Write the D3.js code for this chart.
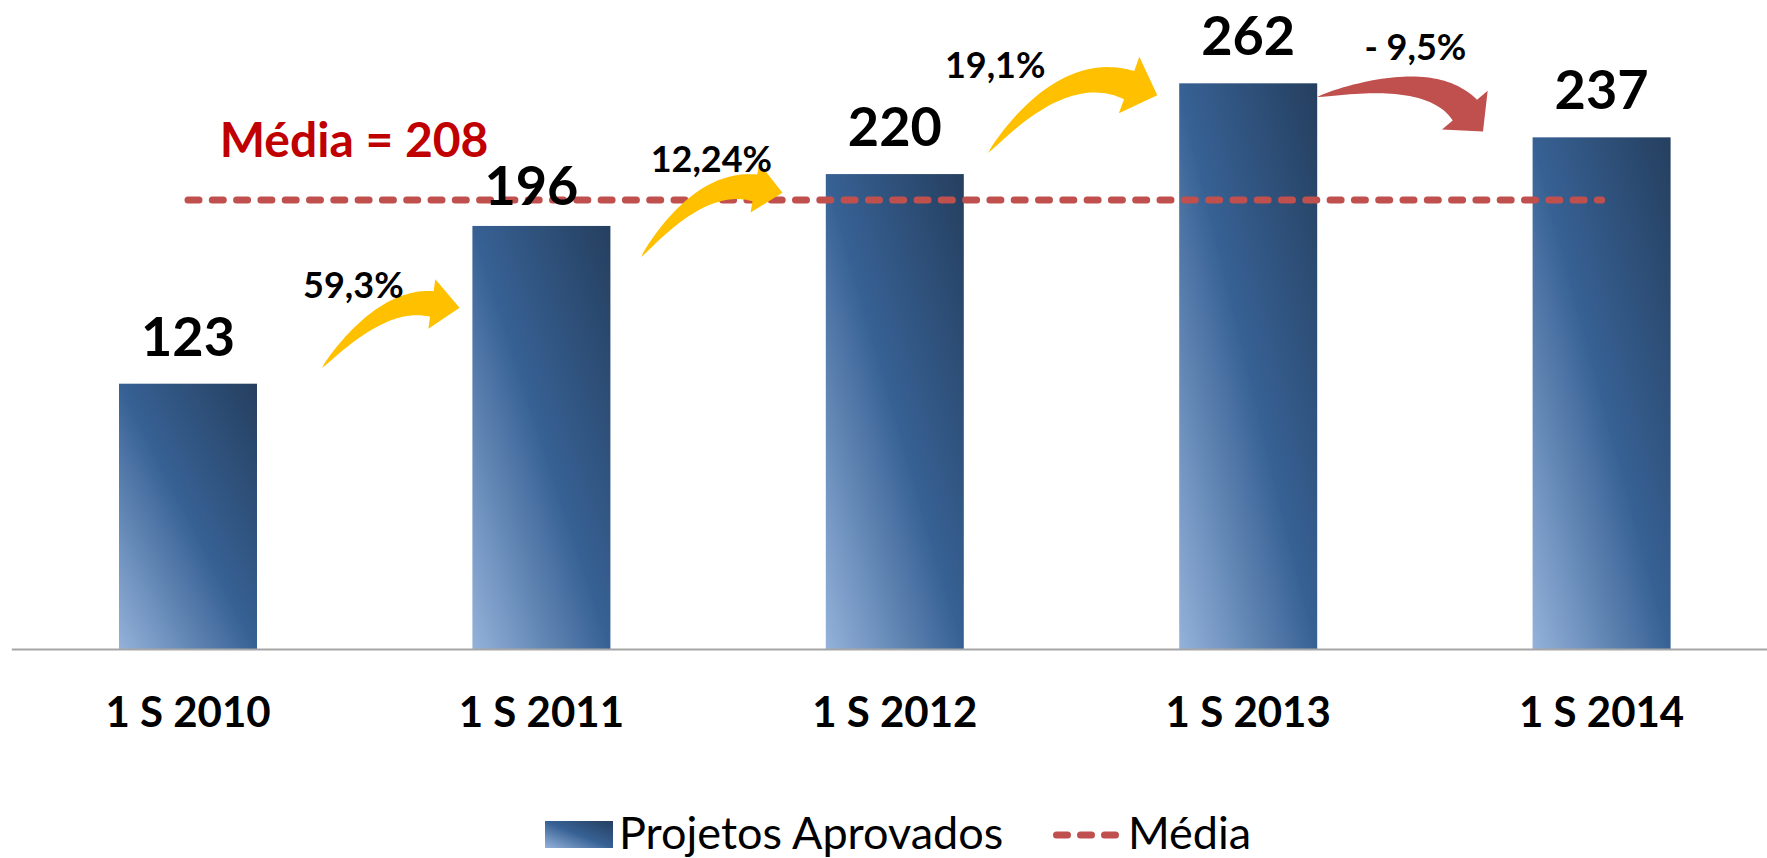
<!DOCTYPE html>
<html>
<head>
<meta charset="utf-8">
<script src="https://cdn.jsdelivr.net/npm/d3@7"></script>
<style>
  html, body { margin: 0; padding: 0; background: #fff; }
  svg { display: block; font-family: Lato, "Open Sans", sans-serif; }
</style>
</head>
<body>
<svg id="chart" width="1767" height="858"></svg>
<script>
var categories = ['1 S 2010', '1 S 2011', '1 S 2012', '1 S 2013', '1 S 2014'];
var projetos = [123, 196, 220, 262, 237];
var media = 208;
var variacoes = ['59,3%', '12,24%', '19,1%', '- 9,5%'];
var yDomain = [0, 300];

// annotation layout: x in category steps from the first bar centre, y in chart units
var arrows = [
  {tail: [0.379, 130.3], ctrl: [0.550, 163.1], base: [0.690, 159.9], label: [0.468, 162.7], color: '#FFC000', w: 13, W: 25, L: 28},
  {tail: [1.282, 181.6], ctrl: [1.451, 218.0], base: [1.604, 213.6], label: [1.481, 221.0], color: '#FFC000', w: 13.5, W: 25, L: 28},
  {tail: [2.264, 229.8], ctrl: [2.476, 272.3], base: [2.663, 261.2], label: [2.284, 264.5], color: '#FFC000', w: 15, W: 30, L: 30},
  {tail: [3.195, 255.7], ctrl: [3.514, 268.6], base: [3.613, 249.6], label: [3.473, 272.8], color: '#C0504D', w: 16, W: 30, L: 28}
];
var mediaLabelPos = [0.470, 227.9];
var labelNudge = {'1 S 2011': [-10, 7]};

var svg = d3.select('#chart');
var W = 1767, H = 858;
var baseY = 649;
var legendY = 849;

var x = d3.scaleBand()
  .domain(categories)
  .range([11.3, 1778.3])
  .paddingInner(0.6095)
  .paddingOuter(0.6095 / 2);

var y = d3.scaleLinear()
  .domain(yDomain)
  .range([baseY + 0.5, baseY + 0.5 - 2.161 * 300]);

var bw = x.bandwidth();
var cx0 = x(categories[0]) + bw / 2;
function px(p) { return [cx0 + p[0] * x.step(), y(p[1])]; }

// bar gradient: light bottom-left -> mid -> dark top-right
var defs = svg.append('defs');
var grad = defs.append('linearGradient')
  .attr('id', 'barGrad')
  .attr('x1', 0).attr('y1', 1).attr('x2', 1).attr('y2', 0);
grad.append('stop').attr('offset', 0).attr('stop-color', '#94B2DA');
grad.append('stop').attr('offset', 0.5).attr('stop-color', '#376194');
grad.append('stop').attr('offset', 1).attr('stop-color', '#253F5F');

svg.append('rect').attr('width', W).attr('height', H).attr('fill', '#fff');

// bars
svg.append('g').selectAll('rect')
  .data(projetos)
  .join('rect')
    .attr('x', function(d, i) { return x(categories[i]); })
    .attr('y', function(d) { return y(d); })
    .attr('width', bw)
    .attr('height', function(d) { return y(0) - y(d); })
    .attr('fill', 'url(#barGrad)');

// axis
var axis = svg.append('g')
  .attr('transform', 'translate(0,' + baseY + ')')
  .call(d3.axisBottom(x).tickSize(0).tickSizeOuter(0).tickPadding(48));
axis.select('.domain').attr('stroke', '#A6A6A6').attr('stroke-width', 2);
axis.selectAll('text')
  .attr('fill', '#000')
  .style('font-family', 'Lato, "Open Sans", sans-serif')
  .style('font-size', '42px')
  .style('font-weight', 'bold');

// mean line
svg.append('line')
  .attr('x1', x(categories[0]) + bw / 2)
  .attr('x2', x(categories[categories.length - 1]) + bw / 2)
  .attr('y1', y(media)).attr('y2', y(media))
  .attr('stroke', '#C0504D')
  .attr('stroke-width', 7)
  .attr('stroke-linecap', 'round')
  .attr('stroke-dasharray', '11 13.3');

// value labels
svg.append('g').selectAll('text')
  .data(projetos)
  .join('text')
    .attr('x', function(d, i) { var n = labelNudge[categories[i]]; return x(categories[i]) + bw / 2 + (n ? n[0] : 0); })
    .attr('y', function(d, i) { var n = labelNudge[categories[i]]; return y(d) - 28 + (n ? n[1] : 0); })
    .attr('text-anchor', 'middle')
    .style('font-size', '54px')
    .style('font-weight', 'bold')
    .attr('fill', '#000')
    .text(function(d) { return d; });

// curved arrows
function arrowPath(a) {
  var T = px(a.tail), C = px(a.ctrl), B = px(a.base);
  var n = 40, upper = [], lower = [], dx, dy, len;
  for (var i = 0; i <= n; i++) {
    var t = i / n, u = 1 - t;
    var qx = u * u * T[0] + 2 * u * t * C[0] + t * t * B[0];
    var qy = u * u * T[1] + 2 * u * t * C[1] + t * t * B[1];
    dx = 2 * u * (C[0] - T[0]) + 2 * t * (B[0] - C[0]);
    dy = 2 * u * (C[1] - T[1]) + 2 * t * (B[1] - C[1]);
    len = Math.hypot(dx, dy);
    var nx = dy / len, ny = -dx / len;
    var hw = a.w * Math.pow(t, 0.7);
    upper.push([qx + nx * hw, qy + ny * hw]);
    lower.push([qx - nx * hw, qy - ny * hw]);
  }
  var ux = dx / len, uy = dy / len, nx2 = uy, ny2 = -ux;
  var pts = upper.concat([
    [B[0] + nx2 * a.W, B[1] + ny2 * a.W],
    [B[0] + ux * a.L, B[1] + uy * a.L],
    [B[0] - nx2 * a.W, B[1] - ny2 * a.W]
  ]).concat(lower.reverse());
  return d3.line()(pts) + 'Z';
}

svg.append('g').selectAll('path')
  .data(arrows)
  .join('path')
    .attr('d', arrowPath)
    .attr('fill', function(d) { return d.color; });

svg.append('g').selectAll('text')
  .data(arrows)
  .join('text')
    .attr('x', function(d) { return px(d.label)[0]; })
    .attr('y', function(d) { return px(d.label)[1]; })
    .attr('text-anchor', 'middle')
    .style('font-size', '36px')
    .style('font-weight', 'bold')
    .attr('fill', '#000')
    .text(function(d, i) { return variacoes[i]; });

// media label
svg.append('text')
  .attr('x', px(mediaLabelPos)[0])
  .attr('y', px(mediaLabelPos)[1])
  .attr('text-anchor', 'middle')
  .style('font-size', '48px')
  .style('font-weight', 'bold')
  .attr('fill', '#C00000')
  .text('Média = ' + media);

// legend
var legend = svg.append('g');
legend.append('rect')
  .attr('x', 545).attr('y', legendY - 28).attr('width', 68).attr('height', 27)
  .attr('fill', 'url(#barGrad)');
legend.append('text')
  .attr('x', 619).attr('y', legendY)
  .style('font-size', '45px')
  .attr('fill', '#000')
  .text('Projetos Aprovados');
legend.append('line')
  .attr('x1', 1056.5).attr('x2', 1115.5)
  .attr('y1', legendY - 14).attr('y2', legendY - 14)
  .attr('stroke', '#C0504D')
  .attr('stroke-width', 7)
  .attr('stroke-linecap', 'round')
  .attr('stroke-dasharray', '11 13');
legend.append('text')
  .attr('x', 1128).attr('y', legendY)
  .style('font-size', '45px')
  .attr('fill', '#000')
  .text('Média');
</script>
</body>
</html>
